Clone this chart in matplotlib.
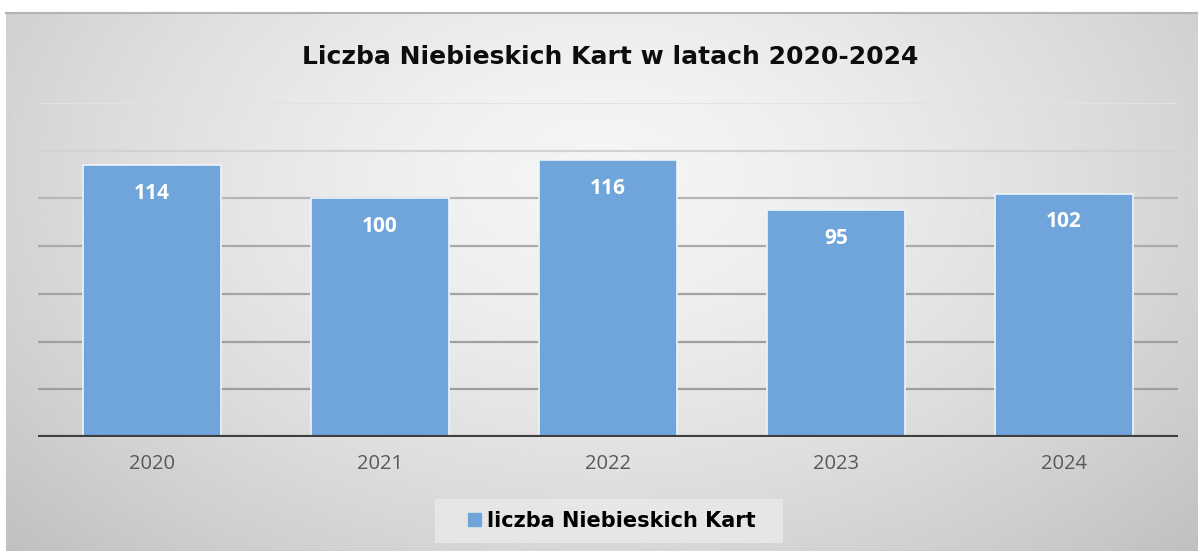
import matplotlib.pyplot as plt
import numpy as np
from matplotlib.patches import Patch, Rectangle

# data
years = ['2020', '2021', '2022', '2023', '2024']
cards = [114, 100, 116, 95, 102]
series_name = 'liczba Niebieskich Kart'
title = 'Liczba Niebieskich Kart w latach 2020-2024'

W, H = 1198, 551
fig = plt.figure(figsize=(W / 100, H / 100), dpi=100)
fig.patch.set_facecolor('white')

# radial gray background of the chart area
bg = fig.add_axes([6 / W, 0, 1 - 6 / W, (H - 12) / H])
yy, xx = np.mgrid[0:1:300j, 0:1:600j]
d = np.sqrt(((xx - 0.5) / 0.72) ** 2 + ((yy - 0.3) / 1.05) ** 2)
shade = np.clip(0.96 - 0.22 * d ** 1.5, 0, 1)
bg.imshow(shade, cmap='gray', vmin=0, vmax=1, aspect='auto',
          extent=[0, 1, 1, 0], interpolation='bilinear')
bg.set_axis_off()
fig.add_artist(plt.Line2D([6 / W, 1], [(H - 12.5) / H] * 2, color='#b4b4b4', lw=1.5))

# main plot area
ax = fig.add_axes([38 / W, (H - 437) / H, (1178 - 38) / W, (437 - 103) / H])
ax.patch.set_alpha(0)
x = np.arange(len(years))
bars = ax.bar(x, cards, width=0.605, color='#6fa5da', edgecolor='#eef5fc', linewidth=1.2, zorder=3)
ax.set_xlim(-0.5, len(years) - 0.5)
ax.set_ylim(0, 140)

grid_cols = ['#9e9e9e', '#a0a0a0', '#a4a4a4', '#aaaaaa', '#b6b6b6', '#d2d2d2', '#e2e2e2']
for i, v in enumerate(range(20, 141, 20)):
    ax.axhline(v, color=grid_cols[i], lw=1.6, zorder=1)
ax.axhline(0, color='#3f3f3f', lw=3, zorder=4)

for b, v in zip(bars, cards):
    ax.annotate(str(v), (b.get_x() + b.get_width() / 2, v), xytext=(0, -28),
                textcoords='offset pixels', ha='center', va='center',
                color='white', fontsize=15, fontweight='bold', family='Open Sans', zorder=5)

for s in ax.spines.values():
    s.set_visible(False)
ax.set_yticks([])
ax.set_xticks(x)
ax.set_xticklabels(years, fontsize=14.5, color='#595959', family='Open Sans')
ax.tick_params(axis='x', length=0, pad=12)

fig.text(610 / W, 1 - 57 / H, title, ha='center', va='center',
         fontsize=18, fontweight='bold', family='DejaVu Sans', color='#0d0d0d')

# legend box
fig.add_artist(Rectangle((435 / W, 1 - 543 / H), (783 - 435) / W, 44 / H,
                         transform=fig.transFigure, facecolor='#e9e9e9',
                         edgecolor='none', alpha=0.85))
leg = fig.legend(handles=[Patch(color='#6fa5da', label=series_name)],
                 loc='center', bbox_to_anchor=(612 / W, 1 - 521 / H),
                 prop={'family': 'DejaVu Sans', 'weight': 'bold', 'size': 15},
                 handlelength=0.6, handleheight=0.6, handletextpad=0.3,
                 frameon=False)

fig.savefig('out.png', dpi=100)
